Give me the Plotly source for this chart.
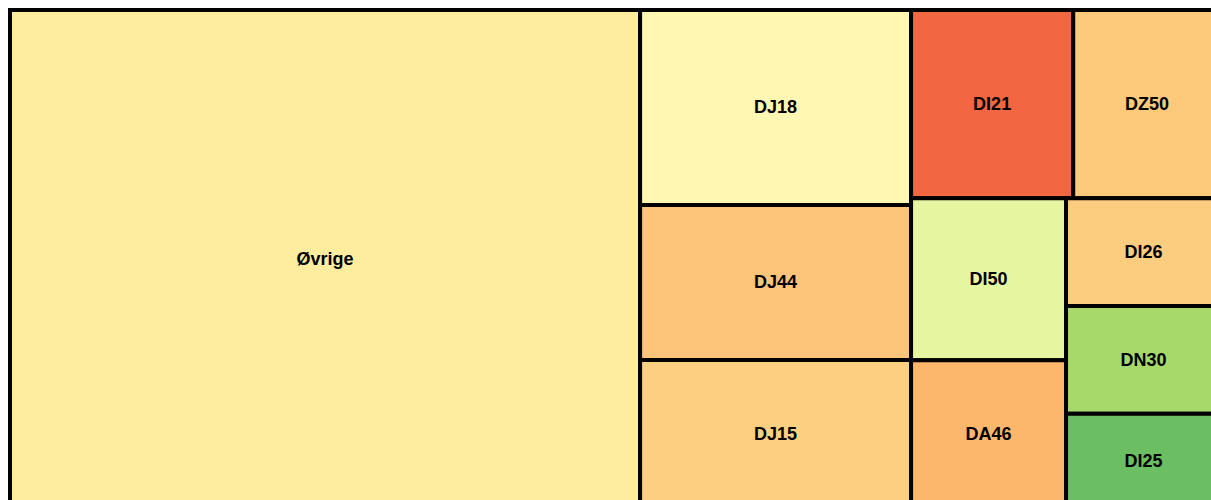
import plotly.graph_objects as go

labels = ["Øvrige", "DJ18", "DJ44", "DJ15", "DI21", "DZ50", "DI50", "DA46", "DI26", "DN30", "DI25"]
values = [3137, 528, 420, 401, 305, 278, 251, 229, 167, 167, 146]
parents = [""] * len(labels)
colors = ["#FEEC9F", "#FFF7B2", "#FDC57A", "#FCD080", "#F26641", "#FDC97B",
          "#E6F5A0", "#FDB76A", "#FDCD7F", "#A6D96A", "#6BBE62"]

fig = go.Figure(go.Treemap(
    labels=labels,
    parents=parents,
    values=values,
    sort=True,
    marker=dict(colors=colors, line=dict(color="black", width=4),
                pad=dict(t=0, l=0, r=0, b=0)),
    texttemplate="<b>%{label}</b>",
    textposition="middle center",
    textfont=dict(family="Arial, Liberation Sans, sans-serif", size=18, color="black"),
    pathbar=dict(visible=False),
    tiling=dict(packing="squarify", squarifyratio=1.25, pad=0),
))
fig.update_layout(
    width=1231, height=518,
    margin=dict(l=10, r=10, t=10, b=10),
    paper_bgcolor="white",
    uniformtext=dict(minsize=18, mode="show"),
)
fig.write_html("out.html", config={"displayModeBar": False},
               post_script="document.body.style.margin='0';document.body.style.overflow='hidden';")
